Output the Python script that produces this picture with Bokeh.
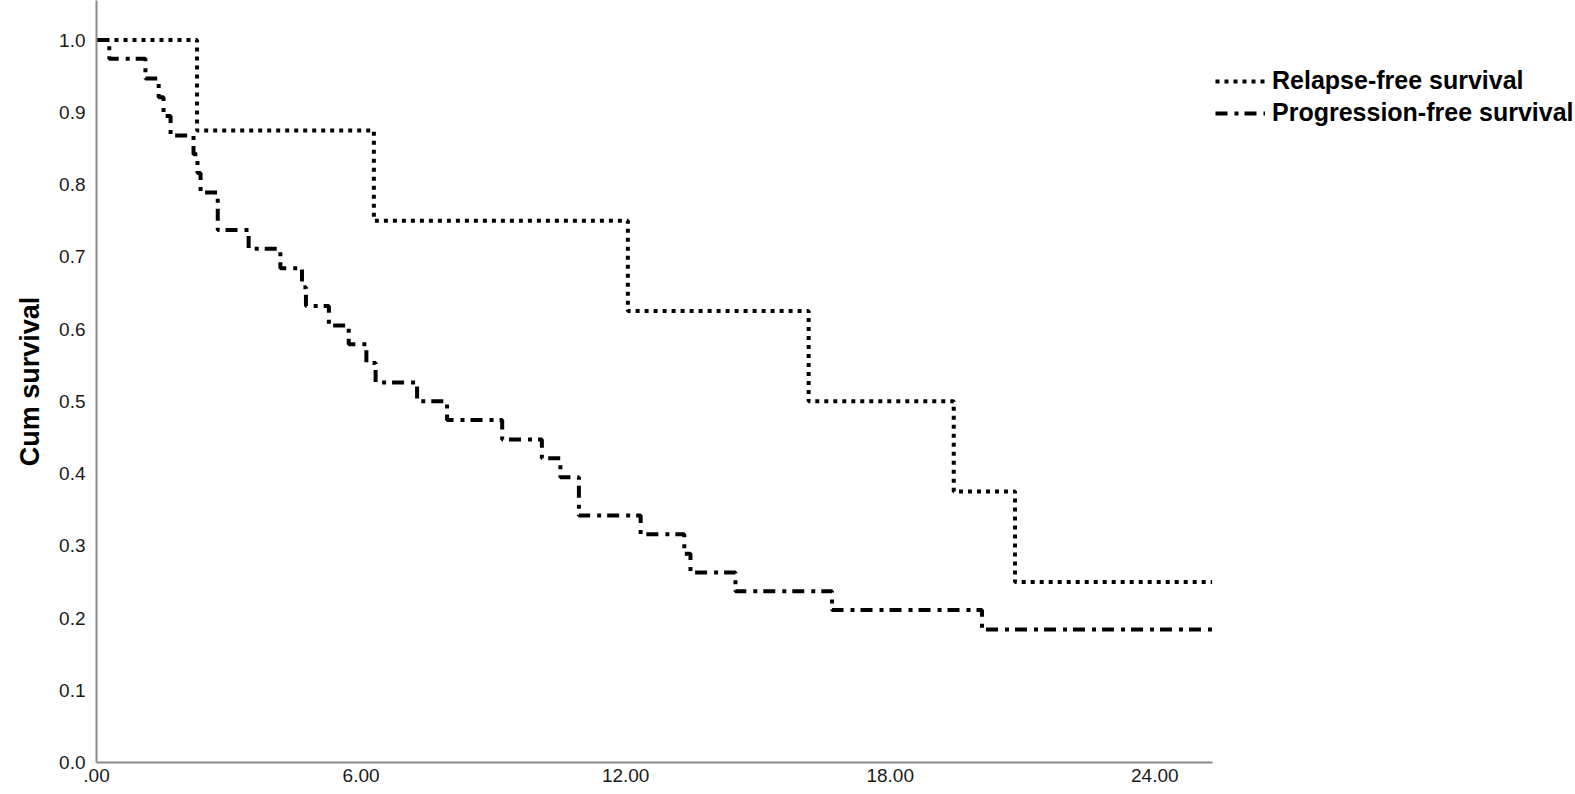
from bokeh.plotting import figure
from bokeh.models import Range1d, FixedTicker, Legend, LegendItem
from bokeh.embed import file_html
from bokeh.resources import INLINE

# Relapse-free survival (Kaplan-Meier steps)
rfs_time = [0.0, 2.28, 6.29, 12.05, 16.15, 19.44, 20.83, 25.3]
rfs_surv = [1.0, 0.875, 0.75, 0.625, 0.5, 0.375, 0.25, 0.25]

# Progression-free survival (Kaplan-Meier steps)
pfs_time = [0.0, 0.29, 1.11, 1.41, 1.52, 1.68, 2.20, 2.29, 2.36, 2.75, 3.45,
            4.17, 4.66, 4.75, 5.27, 5.72, 6.12, 6.33, 7.27, 7.95, 9.20,
            10.10, 10.52, 10.94, 12.34, 13.33, 13.47, 14.49, 16.68, 20.08, 25.3]
pfs_surv = [1.0, 0.974, 0.947, 0.921, 0.895, 0.868, 0.842, 0.816, 0.789, 0.737, 0.711,
            0.684, 0.658, 0.632, 0.605, 0.579, 0.553, 0.526, 0.500, 0.474, 0.447,
            0.421, 0.395, 0.342, 0.316, 0.289, 0.263, 0.237, 0.211, 0.184, 0.184]

x_ticks = [0, 6, 12, 18, 24]
x_tick_labels = [".00", "6.00", "12.00", "18.00", "24.00"]
y_ticks = [0.0, 0.1, 0.2, 0.3, 0.4, 0.5, 0.6, 0.7, 0.8, 0.9, 1.0]
y_tick_labels = ["0.0", "0.1", "0.2", "0.3", "0.4", "0.5", "0.6", "0.7", "0.8", "0.9", "1.0"]

series_labels = ["Relapse-free survival", "Progression-free survival"]

FONT = "Liberation Sans"
X_MAX = 25.3

p = figure(width=1575, height=794, output_backend="svg", toolbar_location=None,
           x_range=Range1d(0, 33.54), y_range=Range1d(0, 1.0548),
           min_border_left=96, min_border_right=0, min_border_top=0,
           min_border_bottom=32)
p.outline_line_color = None
p.xgrid.grid_line_color = None
p.ygrid.grid_line_color = None
p.background_fill_color = "white"
p.border_fill_color = "white"

for ax in (p.xaxis[0], p.yaxis[0]):
    ax.axis_line_color = "#8a8a8a"
    ax.axis_line_width = 2
    ax.major_tick_line_color = None
    ax.minor_tick_line_color = None
    ax.major_tick_out = 0
    ax.major_tick_in = 0
    ax.minor_tick_out = 0
    ax.minor_tick_in = 0
    ax.major_label_text_font = FONT
    ax.major_label_text_color = "#1a1a1a"

p.xaxis.bounds = (0, X_MAX)
p.xaxis.ticker = FixedTicker(ticks=x_ticks)
p.xaxis.major_label_overrides = {t: l for t, l in zip(x_ticks, x_tick_labels)}
p.xaxis.major_label_text_font_size = "19px"
p.xaxis.major_label_standoff = 6

p.yaxis.ticker = FixedTicker(ticks=y_ticks)
p.yaxis.major_label_overrides = {t: l for t, l in zip(y_ticks, y_tick_labels)}
p.yaxis.major_label_text_font_size = "19px"
p.yaxis.major_label_standoff = 11
p.yaxis.axis_label = "Cum survival"
p.yaxis.axis_label_text_font = FONT
p.yaxis.axis_label_text_font_size = "27px"
p.yaxis.axis_label_text_font_style = "bold"
p.yaxis.axis_label_text_color = "black"
p.yaxis.axis_label_standoff = 11

r1 = p.step(rfs_time, rfs_surv, mode="after", line_color="black",
            line_width=4, line_dash="4 5")
r2 = p.step(pfs_time, pfs_surv, mode="after", line_color="black",
            line_width=4, line_dash="12 7 4 6")

legend = Legend(items=[LegendItem(label=series_labels[0], renderers=[r1]),
                       LegendItem(label=series_labels[1], renderers=[r2])],
                location=(1119, 635))
legend.glyph_width = 50
legend.glyph_height = 24
legend.label_height = 24
legend.label_standoff = 7
legend.spacing = 3
legend.padding = 0
legend.margin = 0
legend.border_line_color = None
legend.background_fill_alpha = 0
legend.label_text_font = FONT
legend.label_text_font_size = "25px"
legend.label_text_font_style = "bold"
legend.label_text_color = "black"
p.add_layout(legend, "center")

open("out.html", "w").write(file_html(p, INLINE))
